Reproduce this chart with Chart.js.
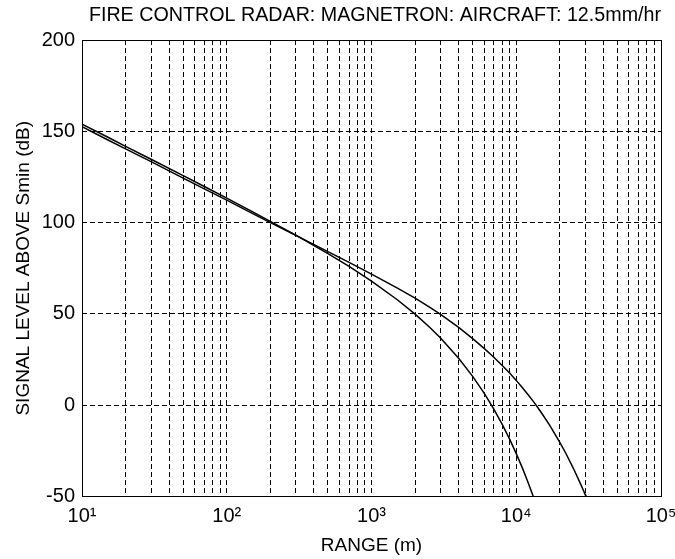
<!DOCTYPE html>
<html>
<head>
<meta charset="utf-8">
<script src="https://cdn.jsdelivr.net/npm/chart.js@4/dist/chart.umd.min.js"></script>
<style>
  html, body { margin: 0; padding: 0; background: #ffffff; }
  #wrap { width: 675px; height: 559px; }
</style>
</head>
<body>
<div id="wrap"><canvas id="c" width="675" height="559"></canvas></div>
<script>
// Range (m) and signal level above Smin (dB) for the two rain-attenuated returns
const RANGE_A = [10, 15, 20, 30, 50, 70, 100, 150, 200, 300, 500, 700, 1000, 1500, 2000, 2500, 3000,
                 4000, 5000, 6000, 7000, 8000, 9000, 10000, 11000, 12000, 13000, 13100];
const LEVEL_A = [153.9, 146.9, 141.8, 134.7, 125.7, 119.8, 113.4, 106.0, 100.7, 93.1, 83.0, 76.0, 68.0,
                 57.9, 49.9, 43.0, 36.8, 25.7, 15.8, 6.6, -2.2, -10.5, -18.6, -26.5, -34.2, -41.8, -49.2, -50.0];

const RANGE_B = [10, 15, 20, 30, 50, 70, 100, 150, 200, 300, 500, 700, 1000, 1500, 2000, 2500, 3000,
                 4000, 5000, 6000, 7000, 8000, 9000, 10000, 11000, 12000, 13000, 14000, 15000, 17000,
                 20000, 22000, 25000, 28000, 30000, 30300];
const LEVEL_B = [152.5, 145.4, 140.4, 133.4, 124.4, 118.5, 112.3, 105.1, 100.0, 93.0, 84.1, 78.2, 71.8,
                 64.3, 58.6, 53.9, 49.7, 42.6, 36.5, 31.1, 26.3, 21.8, 17.6, 13.6, 9.7, 6.0, 2.5, -1.0,
                 -4.4, -10.9, -20.3, -26.3, -35.1, -43.6, -49.1, -50.0];

// Axis ticks
const X_DECADES = [10, 100, 1000, 10000, 100000];
const X_MULTIPLES = [1, 2, 3, 4, 5, 6, 7, 8, 9];
const X_LABELS = ['10\u00B9', '10\u00B2', '10\u00B3', '10\u2074', '10\u2075'];
const Y_TICKS = [-50, 0, 50, 100, 150, 200];

const TITLE = 'FIRE CONTROL RADAR: MAGNETRON: AIRCRAFT: 12.5mm/hr';
const X_TITLE = 'RANGE (m)';
const Y_TITLE = 'SIGNAL LEVEL ABOVE Smin (dB)';

const FONT = "'Liberation Sans', Arial, sans-serif";

const xGrid = [];
X_DECADES.forEach((d, i) => {
  if (i === X_DECADES.length - 1) { xGrid.push(d); return; }
  X_MULTIPLES.forEach(m => xGrid.push(d * m));
});

const toPoints = (xs, ys) => xs.map((x, i) => ({ x: x, y: ys[i] }));

// Closed box around the plotting area
const frame = {
  id: 'frame',
  afterDraw(chart) {
    const a = chart.chartArea, ctx = chart.ctx;
    ctx.save();
    ctx.strokeStyle = '#000';
    ctx.lineWidth = 1;
    ctx.strokeRect(Math.round(a.left) + 0.5, Math.round(a.top) + 0.5,
                   Math.round(a.right - a.left), Math.round(a.bottom - a.top));
    ctx.restore();
  }
};

Chart.defaults.font.family = FONT;
Chart.defaults.color = '#000';

new Chart(document.getElementById('c'), {
  type: 'line',
  data: {
    datasets: [
      { data: toPoints(RANGE_A, LEVEL_A), borderColor: '#000', borderWidth: 1.5,
        pointRadius: 0, tension: 0, fill: false },
      { data: toPoints(RANGE_B, LEVEL_B), borderColor: '#000', borderWidth: 1.5,
        pointRadius: 0, tension: 0, fill: false }
    ]
  },
  options: {
    responsive: false,
    animation: false,
    layout: { padding: { left: 0, right: 14, top: 0, bottom: 0 } },
    plugins: {
      legend: { display: false },
      tooltip: { enabled: false },
      title: {
        display: true, text: TITLE, align: 'end', color: '#000',
        font: { size: 19.7, weight: 'normal', family: FONT },
        padding: { top: 4, bottom: 12.4 }
      }
    },
    scales: {
      x: {
        type: 'logarithmic', min: 10, max: 100000,
        afterBuildTicks: s => { s.ticks = xGrid.map(v => ({ value: v })); },
        afterFit: s => { s.height = 62.5; s.paddingLeft = 0; s.paddingRight = 0; },
        ticks: {
          autoSkip: false, maxRotation: 0, padding: 8,
          font: { size: 20, family: FONT }, color: '#000',
          callback: v => { const i = X_DECADES.indexOf(v); return i >= 0 ? X_LABELS[i] : ''; }
        },
        grid: { color: '#000', lineWidth: 1, drawTicks: false },
        border: { display: false, dash: [5, 3] },
        title: { display: true, text: X_TITLE, font: { size: 19, family: FONT }, color: '#000',
                 padding: { top: 0, bottom: 2 } }
      },
      y: {
        type: 'linear', min: -50, max: 200,
        afterBuildTicks: s => { s.ticks = Y_TICKS.map(v => ({ value: v })); },
        afterFit: s => { s.width = 82; },
        ticks: { padding: 7, font: { size: 20, family: FONT }, color: '#000' },
        grid: { color: '#000', lineWidth: 1, drawTicks: false },
        border: { display: false, dash: [5, 3] },
        title: { display: true, text: Y_TITLE, font: { size: 19, family: FONT }, color: '#000',
                 padding: { top: 12, bottom: 0 } }
      }
    }
  },
  plugins: [frame]
});
</script>
</body>
</html>
